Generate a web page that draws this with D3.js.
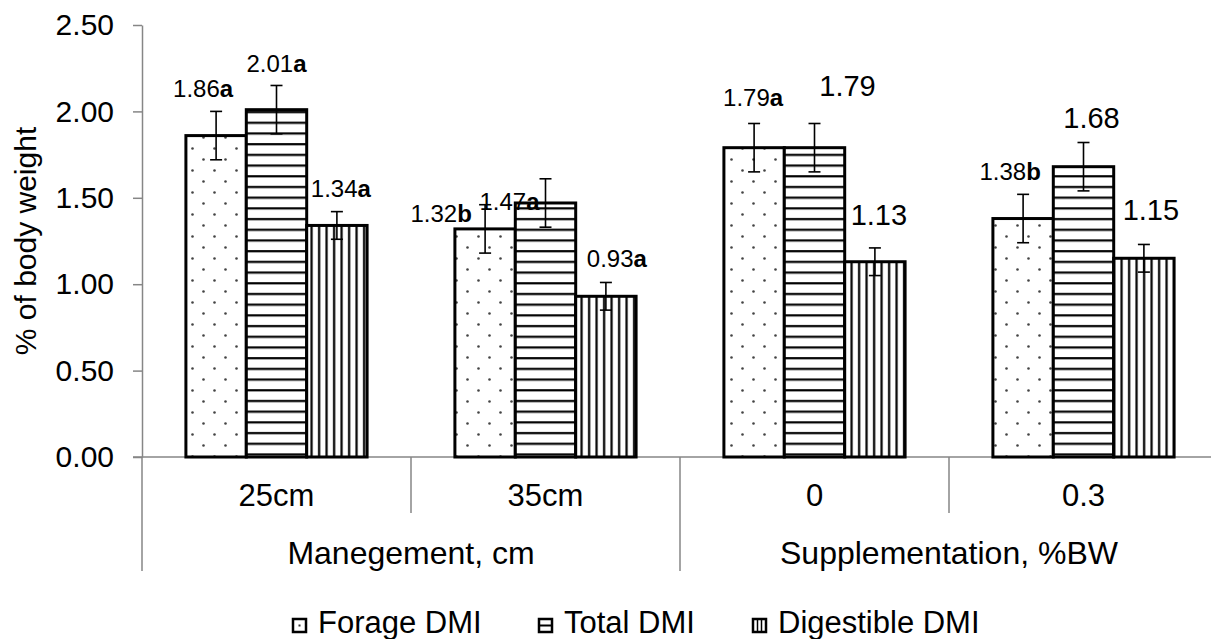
<!DOCTYPE html>
<html>
<head>
<meta charset="utf-8">
<script src="https://cdn.jsdelivr.net/npm/d3@7"></script>
<style>
  html, body { margin: 0; padding: 0; background: #fff; }
  svg { display: block; font-family: "Liberation Sans", Arial, sans-serif; }
</style>
</head>
<body>
<svg id="chart" width="1211" height="639"></svg>
<script>
// Categories (two-level axis)
const categories = ["25cm", "35cm", "0", "0.3"];
const groupLabels = ["Manegement, cm", "Supplementation, %BW"];
const groupSpans = [[0, 1], [2, 3]];

// Series
const seriesNames = ["Forage DMI", "Total DMI", "Digestible DMI"];
const forageDMI = [1.86, 1.32, 1.79, 1.38];
const totalDMI = [2.01, 1.47, 1.79, 1.68];
const digestibleDMI = [1.34, 0.93, 1.13, 1.15];

// Error (±) for each bar
const forageErr = [0.14, 0.14, 0.14, 0.14];
const totalErr = [0.14, 0.14, 0.14, 0.14];
const digestibleErr = [0.08, 0.08, 0.08, 0.08];

// Significance letters shown after the value
const forageLetters = ["a", "b", "a", "b"];
const totalLetters = ["a", "a", "", ""];
const digestibleLetters = ["a", "a", "", ""];

// Axis ticks
const yTicks = [0, 0.5, 1.0, 1.5, 2.0, 2.5];

// Label nudges in px: [dx from bar centre, dy from top of the error bar]
const labelNudge = [
  [[-13, -14], [-44, 17], [-1, -17], [-13, -14]],
  [[0, -13], [-36, 31], [33, -27], [8, -15]],
  [[4, -15], [11, -15], [4, -23], [7, -24]]
];

const series = [
  { name: seriesNames[0], values: forageDMI, err: forageErr, letters: forageLetters, fill: "url(#pDots)" },
  { name: seriesNames[1], values: totalDMI, err: totalErr, letters: totalLetters, fill: "url(#pHoriz)" },
  { name: seriesNames[2], values: digestibleDMI, err: digestibleErr, letters: digestibleLetters, fill: "url(#pVert)" }
];

const svg = d3.select("#chart");
const axisColor = "#868686";

// Fill patterns
const defs = svg.append("defs");
const dots = defs.append("pattern").attr("id", "pDots")
  .attr("patternUnits", "userSpaceOnUse").attr("width", 22).attr("height", 22);
dots.append("rect").attr("width", 22).attr("height", 22).attr("fill", "#fff");
dots.append("circle").attr("cx", 5.5).attr("cy", 5.5).attr("r", 1.3).attr("fill", "#444");
dots.append("circle").attr("cx", 16.5).attr("cy", 16.5).attr("r", 1.3).attr("fill", "#444");

const horiz = defs.append("pattern").attr("id", "pHoriz")
  .attr("patternUnits", "userSpaceOnUse").attr("width", 10).attr("height", 10.7);
horiz.append("rect").attr("width", 10).attr("height", 10.7).attr("fill", "#fff");
horiz.append("rect").attr("y", 4).attr("width", 10).attr("height", 2.2).attr("fill", "#000");

const vert = defs.append("pattern").attr("id", "pVert")
  .attr("patternUnits", "userSpaceOnUse").attr("width", 7.5).attr("height", 10);
vert.append("rect").attr("width", 7.5).attr("height", 10).attr("fill", "#fff");
vert.append("rect").attr("x", 3).attr("width", 2.2).attr("height", 10).attr("fill", "#000");

// Scales
const x0 = d3.scaleBand().domain(categories).range([142, 1218]).paddingInner(0).paddingOuter(0);
const x1 = d3.scaleBand().domain(seriesNames).range([0, x0.bandwidth()]).paddingInner(0).paddingOuter(0.727);
const y = d3.scaleLinear().domain([0, 2.5]).range([457, 25]);

// Y axis
const yAxis = svg.append("g").attr("transform", `translate(${x0.range()[0]},0)`)
  .call(d3.axisLeft(y).tickValues(yTicks).tickFormat(d3.format(".2f")).tickSize(9).tickSizeOuter(0).tickPadding(19));
yAxis.select(".domain").attr("stroke", axisColor).attr("stroke-width", 1.5);
yAxis.selectAll(".tick line").attr("stroke", axisColor).attr("stroke-width", 1.5);
yAxis.selectAll(".tick text").attr("font-size", 30).attr("fill", "#000")
  .attr("font-family", "'Liberation Sans', Arial, sans-serif");

// Y axis title
svg.append("text")
  .attr("transform", `translate(36,${(y(0) + y(2.5)) / 2}) rotate(-90)`)
  .attr("text-anchor", "middle").attr("font-size", 30).attr("fill", "#000")
  .text("% of body weight");

// Category axis: baseline, dividers and labels
const xStart = x0.range()[0], xEnd = x0.range()[1];
svg.append("line").attr("x1", xStart - 9).attr("x2", xEnd).attr("y1", y(0)).attr("y2", y(0))
  .attr("stroke", axisColor).attr("stroke-width", 1.5);

const edges = categories.map(c => x0(c)).concat([xEnd]);
const outerEdges = new Set([x0(categories[0]), x0(categories[2]), xEnd]);
svg.append("g").selectAll("line").data(edges).join("line")
  .attr("x1", d => d).attr("x2", d => d)
  .attr("y1", y(0)).attr("y2", d => outerEdges.has(d) ? 571 : 513)
  .attr("stroke", axisColor).attr("stroke-width", 1.5);

svg.append("g").selectAll("text").data(categories).join("text")
  .attr("x", d => x0(d) + x0.bandwidth() / 2).attr("y", 506)
  .attr("text-anchor", "middle").attr("font-size", 31).attr("fill", "#000")
  .text(d => d);

svg.append("g").selectAll("text").data(groupLabels).join("text")
  .attr("x", (d, i) => (x0(categories[groupSpans[i][0]]) + x0(categories[groupSpans[i][1]]) + x0.bandwidth()) / 2)
  .attr("y", 564).attr("text-anchor", "middle").attr("font-size", 32).attr("fill", "#000")
  .text(d => d);

// Bars
const barG = svg.append("g");
series.forEach((s, si) => {
  barG.append("g").selectAll("rect").data(s.values).join("rect")
    .attr("x", (d, i) => x0(categories[i]) + x1(s.name))
    .attr("y", d => y(d))
    .attr("width", x1.bandwidth())
    .attr("height", d => y(0) - y(d))
    .attr("fill", s.fill)
    .attr("stroke", "#000").attr("stroke-width", 3);
});

// Error bars
series.forEach((s, si) => {
  const g = svg.append("g").attr("stroke", "#000").attr("stroke-width", 1.6);
  s.values.forEach((v, i) => {
    const cx = x0(categories[i]) + x1(s.name) + x1.bandwidth() / 2;
    const top = y(v + s.err[i]), bot = y(v - s.err[i]);
    g.append("line").attr("x1", cx).attr("x2", cx).attr("y1", top).attr("y2", bot);
    g.append("line").attr("x1", cx - 6).attr("x2", cx + 6).attr("y1", top).attr("y2", top);
    g.append("line").attr("x1", cx - 6).attr("x2", cx + 6).attr("y1", bot).attr("y2", bot);
  });
});

// Value labels
series.forEach((s, si) => {
  s.values.forEach((v, i) => {
    const cx = x0(categories[i]) + x1(s.name) + x1.bandwidth() / 2;
    const [dx, dy] = labelNudge[si][i];
    const hasLetter = s.letters[i] !== "";
    const t = svg.append("text")
      .attr("x", cx + dx).attr("y", y(v + s.err[i]) + dy)
      .attr("text-anchor", "middle")
      .attr("font-size", hasLetter ? 24 : 29).attr("fill", "#000");
    t.append("tspan").text(v.toFixed(2));
    if (hasLetter) t.append("tspan").attr("font-weight", "bold").text(s.letters[i]);
  });
});

// Legend
const legendX = [293, 539, 753];
const legend = svg.append("g");
series.forEach((s, si) => {
  const g = legend.append("g").attr("transform", `translate(${legendX[si]},619)`);
  g.append("rect").attr("width", 13).attr("height", 13)
    .attr("fill", "#fff").attr("stroke", "#000").attr("stroke-width", 2.5);
  if (si === 0) {
    g.append("rect").attr("x", 5.5).attr("y", 5.5).attr("width", 2).attr("height", 2).attr("fill", "#333");
  } else if (si === 1) {
    g.append("line").attr("x1", 0).attr("x2", 13).attr("y1", 6.5).attr("y2", 6.5).attr("stroke", "#000").attr("stroke-width", 2);
  } else {
    g.append("line").attr("x1", 4.5).attr("x2", 4.5).attr("y1", 0).attr("y2", 13).attr("stroke", "#000").attr("stroke-width", 1.5);
    g.append("line").attr("x1", 8.5).attr("x2", 8.5).attr("y1", 0).attr("y2", 13).attr("stroke", "#000").attr("stroke-width", 1.5);
  }
  g.append("text").attr("x", 25).attr("y", 14).attr("font-size", 31).attr("fill", "#000").text(s.name);
});
</script>
</body>
</html>
